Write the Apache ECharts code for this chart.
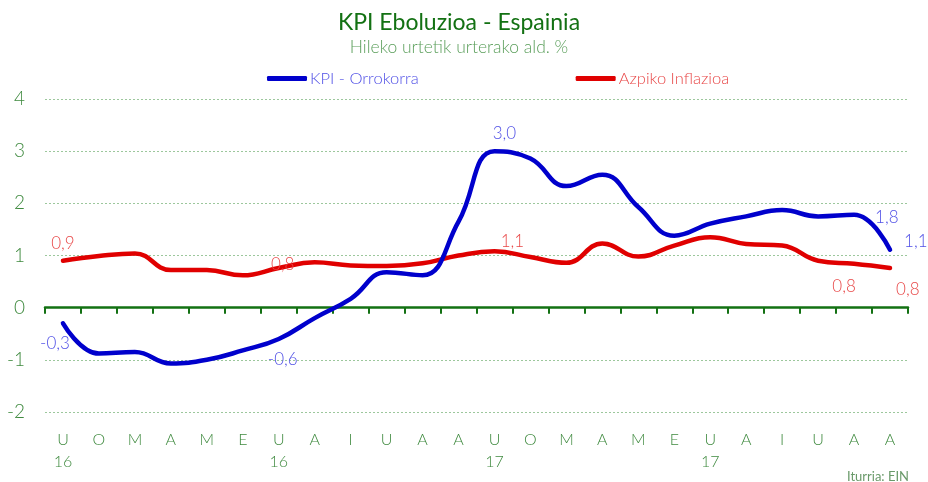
<!DOCTYPE html>
<html>
<head>
<meta charset="utf-8">
<script src="https://cdn.jsdelivr.net/npm/echarts@6/dist/echarts.min.js"></script>
<style>
    html, body { margin: 0; padding: 0; background: #fff; }
    #chart { width: 928px; height: 482px; }
</style>
</head>
<body>
<div id="chart"></div>
<script>
    // hilabeteak (U=urtarrila ... A=abendua), 2016-01 .. 2017-12
    const months = ['U', 'O', 'M', 'A', 'M', 'E', 'U', 'A', 'I', 'U', 'A', 'A',
        'U', 'O', 'M', 'A', 'M', 'E', 'U', 'A', 'I', 'U', 'A', 'A'];
    const years = ['16', '', '', '', '', '', '16', '', '', '', '', '',
        '17', '', '', '', '', '', '17', '', '', '', '', ''];
    const kpiOrokorra = [-0.3, -0.88, -0.85, -1.07, -1.0, -0.82, -0.6, -0.2, 0.17, 0.68, 0.62, 1.65,
        3.0, 2.86, 2.33, 2.55, 1.93, 1.38, 1.61, 1.75, 1.87, 1.75, 1.78, 1.11];
    const azpikoInflazioa = [0.9, 0.99, 1.04, 0.72, 0.72, 0.62, 0.76, 0.87, 0.81, 0.8, 0.85, 1.0,
        1.08, 0.97, 0.86, 1.23, 0.98, 1.19, 1.35, 1.22, 1.19, 0.9, 0.84, 0.76];
    const yTicks = [-2, -1, 0, 1, 2, 3, 4];

    const categories = months.map((m, i) => m + (years[i] ? '\n' + years[i] : ''));
    const fmt = v => v.toFixed(1).replace('.', ',');

    // etiketak zein puntutan
    const blueLabels = {
        0: {position: 'bottom', offset: [-8, 7]},
        6: {position: 'bottom', offset: [4, 7]},
        12: {position: 'top', offset: [10, -4]},
        22: {position: 'right', offset: [16, 3]},
        23: {position: 'right', offset: [9, -8]}
    };
    const redLabels = {
        0: {position: 'top', offset: [0, -4]},
        6: {position: 'top', offset: [4, 10]},
        12: {position: 'top', offset: [18, 4]},
        22: {position: 'bottom', offset: [-10, 9]},
        23: {position: 'right', offset: [1, 21]}
    };

    function buildData(values, labels, color) {
        return values.map((v, i) => {
            if (!labels[i]) return v;
            return {
                value: v,
                label: Object.assign({
                    show: true,
                    color: color,
                    fontFamily: 'Lato',
                    fontSize: 17,
                    fontWeight: 300,
                    formatter: p => fmt(p.value)
                }, labels[i])
            };
        });
    }

    const green = '#3f8a3f';
    const chart = echarts.init(document.getElementById('chart'));
    chart.setOption({
        animation: false,
        textStyle: {fontFamily: 'Lato'},
        title: [{
            text: 'KPI Eboluzioa - Espainia',
            subtext: 'Hileko urtetik urterako ald. %',
            left: 454,
            textAlign: 'center',
            top: 6,
            itemGap: 4,
            textStyle: {color: '#137113', fontSize: 23, fontWeight: 'normal', fontFamily: 'Lato'},
            subtextStyle: {color: '#5a9e5a', fontSize: 17.5, fontWeight: 300, fontFamily: 'Lato'}
        }, {
            text: 'Iturria: EIN',
            right: 14,
            top: 465,
            textStyle: {color: '#6a9a6a', fontSize: 13, fontWeight: 'normal', fontFamily: 'Lato'}
        }],
        legend: {
            left: 262,
            top: 65,
            itemGap: 157,
            itemWidth: 40,
            itemHeight: 5,
            icon: 'roundRect',
            data: [
                {name: 'KPI - Orrokorra', textStyle: {color: '#5050e6'}},
                {name: 'Azpiko Inflazioa', textStyle: {color: '#e84848'}}
            ],
            textStyle: {fontSize: 16.5, fontWeight: 300, fontFamily: 'Lato', padding: [0, 0, 0, -2]}
        },
        grid: {left: 45, right: 20, top: 99, bottom: 70},
        xAxis: [{
            type: 'category',
            data: categories,
            boundaryGap: true,
            axisLine: {onZero: true, lineStyle: {color: '#137113', width: 2.5}},
            axisTick: {show: true, length: 6, lineStyle: {color: '#137113', width: 2}},
            axisLabel: {show: false}
        }, {
            type: 'category',
            data: categories,
            boundaryGap: true,
            position: 'bottom',
            axisLine: {show: false, onZero: false},
            axisTick: {show: false},
            axisLabel: {
                show: true,
                interval: 0,
                margin: 17,
                color: green,
                fontSize: 16,
                fontWeight: 300,
                lineHeight: 22,
                fontFamily: 'Lato'
            }
        }],
        yAxis: {
            type: 'value',
            min: yTicks[0],
            max: yTicks[yTicks.length - 1],
            interval: 1,
            axisLine: {show: false},
            axisTick: {show: false},
            axisLabel: {color: green, fontSize: 19, fontWeight: 300, margin: 20, fontFamily: 'Lato'},
            splitLine: {lineStyle: {color: '#9cc79c', type: [2, 2], width: 1}}
        },
        series: [{
            name: 'KPI - Orrokorra',
            type: 'line',
            smooth: 0.45,
            showSymbol: true,
            symbol: 'circle',
            symbolSize: 0.1,
            color: '#0000cc',
            lineStyle: {width: 4.5, cap: 'round', color: '#0000cc'},
            data: buildData(kpiOrokorra, blueLabels, '#5050e6'),
            z: 3
        }, {
            name: 'Azpiko Inflazioa',
            type: 'line',
            smooth: 0.45,
            showSymbol: true,
            symbol: 'circle',
            symbolSize: 0.1,
            color: '#e00000',
            lineStyle: {width: 4.5, cap: 'round', color: '#e00000'},
            data: buildData(azpikoInflazioa, redLabels, '#e84848'),
            z: 2
        }]
    });
</script>
</body>
</html>
